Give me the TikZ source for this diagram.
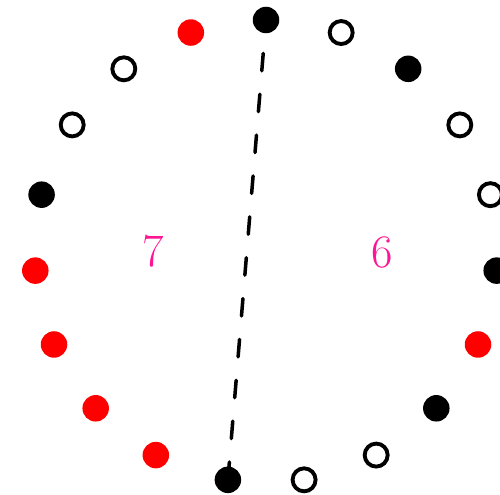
\documentclass[tikz,border=0pt]{standalone}
\usepackage{tikz}
\definecolor{labelpink}{RGB}{255,20,147}
\tikzset{
  full/.style={fill=black, radius=0.265cm},
  hollow/.style={draw=black, line width=2.2pt, fill=white, radius=0.23cm},
  reddot/.style={fill=red, radius=0.265cm},
  cut/.style={line width=2pt, line cap=round, dash pattern=on 0.35cm off 0.47cm, dash phase=0.15cm},
  count/.style={text=labelpink, font=\fontsize{26.5}{32}\selectfont}
}
\begin{document}
\begin{tikzpicture}
\useasboundingbox (-5.32,-4.85) rectangle (4.68,5.03);
% points on the circle, clockwise from the top
\foreach \k in {0,...,18} {
  \coordinate (p\k) at ({90-\k*360/19}:4.63);
}
\draw[cut] (p0) -- (p10);
\foreach \k/\kind in {0/full,1/hollow,2/full,3/hollow,4/hollow,5/full,6/reddot,
  7/full,8/hollow,9/hollow,10/full,11/reddot,12/reddot,13/reddot,14/reddot,
  15/full,16/hollow,17/hollow,18/reddot} {
  \path[\kind] (p\k) circle;
}
\node[count] (seven) at (-2.25,0) {7};
\node[count] (six) at (2.33,-0.02) {6};
\end{tikzpicture}
\end{document}
